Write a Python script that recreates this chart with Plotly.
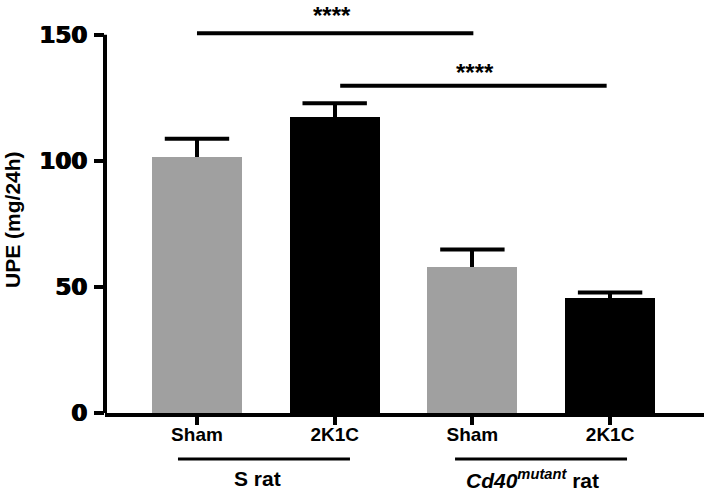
import plotly.graph_objects as go

categories = ["Sham", "2K1C", "Sham", "2K1C"]
groups = ["S rat", "<i>Cd40</i><sup><i>mutant</i></sup> rat"]
upe_mean = [101.4, 117.6, 57.9, 45.5]
upe_sem = [7.4, 5.3, 7.0, 2.3]
bar_colors = ["#a0a0a0", "#000000", "#a0a0a0", "#000000"]
y_ticks = [0, 50, 100, 150]
sig_label = "****"

xpos = list(range(len(categories)))
cap_y = [m + s for m, s in zip(upe_mean, upe_sem)]

fig = go.Figure()
fig.add_trace(go.Bar(
    x=xpos, y=upe_mean, width=0.654,
    marker=dict(color=bar_colors, line=dict(width=0)),
    error_y=dict(type="data", array=upe_sem, arrayminus=[0] * 4, symmetric=False,
                 color="black", thickness=4, width=0),
    showlegend=False, hoverinfo="skip",
))
# upper error caps only
fig.add_trace(go.Scatter(
    x=xpos, y=cap_y, mode="markers",
    marker=dict(symbol="line-ew-open", size=46, color="black", line=dict(color="black", width=4)),
    showlegend=False, hoverinfo="skip",
))

AX_FONT = "Liberation Sans, Arial, sans-serif"

fig.update_layout(
    width=709, height=495,
    margin=dict(l=105, r=5, t=5, b=82),
    paper_bgcolor="white", plot_bgcolor="white",
    bargap=0,
    xaxis=dict(
        range=[-0.668, 3.682], tickvals=xpos, ticktext=categories,
        showline=True, linewidth=4, linecolor="black",
        ticks="outside", ticklen=8, tickwidth=4, tickcolor="black",
        ticklabelstandoff=-7,
        tickfont=dict(family=AX_FONT, size=19, color="black", weight="bold"),
        showgrid=False, zeroline=False, fixedrange=True,
    ),
    yaxis=dict(
        range=[0, 161.85], tickvals=y_ticks,
        showline=False, ticks="outside", ticklen=10, tickwidth=4, tickcolor="black",
        ticklabelstandoff=2,
        tickfont=dict(family="DejaVu Sans, sans-serif", size=23, color="black", weight="bold",
                      shadow="0.6px 0 0 black, -0.6px 0 0 black"),
        showgrid=False, zeroline=False, fixedrange=True,
    ),
)

# y axis line from 0 to 150 only
fig.add_shape(type="line", xref="paper", yref="y", x0=0, x1=0, y0=0, y1=y_ticks[-1],
              line=dict(color="black", width=4))

# significance brackets
sig_lines = [(0, 2.007, 150.6, 0.98, 157.7), (1.04, 2.975, 129.8, 2.02, 135.0)]
for x0, x1, yy, xs, ys in sig_lines:
    fig.add_shape(type="line", xref="x", yref="y", x0=x0, x1=x1, y0=yy, y1=yy,
                  line=dict(color="black", width=4))
    fig.add_annotation(x=xs, y=ys, xref="x", yref="y", text=sig_label, showarrow=False,
                       xanchor="center", yanchor="middle",
                       font=dict(family=AX_FONT, size=24, color="black", weight="bold"))

# group lines and labels
group_lines = [(-0.138, 1.111), (1.874, 3.123)]
group_centers = [0.443, 2.433]
for (x0, x1), xc, lab in zip(group_lines, group_centers, groups):
    fig.add_shape(type="line", xref="x", yref="paper", x0=x0, x1=x1, y0=-0.1127, y1=-0.1127,
                  line=dict(color="black", width=3))
    fig.add_annotation(x=xc, y=-0.161, xref="x", yref="paper", text=lab, showarrow=False,
                       xanchor="center", yanchor="middle",
                       font=dict(family=AX_FONT, size=21, color="black", weight="bold"))

# y-axis title
fig.add_annotation(x=-0.1536, y=0.4756, xref="paper", yref="paper", text="UPE (mg/24h)",
                   textangle=-90, showarrow=False, xanchor="center", yanchor="middle",
                   font=dict(family=AX_FONT, size=21, color="black", weight="bold"))

fig.write_html("out.html", config={"displayModeBar": False},
               post_script="document.body.style.margin='0';")
